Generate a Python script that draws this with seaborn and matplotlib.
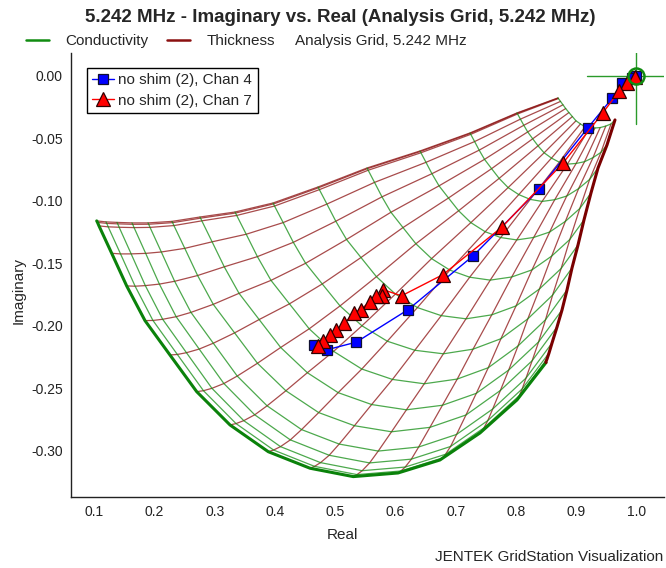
import numpy as np
import pandas as pd
import matplotlib
matplotlib.use("Agg")
import matplotlib.pyplot as plt
from matplotlib.lines import Line2D
import seaborn as sns

# ---------------- measurement data ----------------
chan4_real = [1.000, 0.993, 0.977, 0.960, 0.919, 0.838, 0.729, 0.621, 0.535, 0.487, 0.464]
chan4_imag = [0.000, -0.002, -0.006, -0.018, -0.042, -0.091, -0.144, -0.187, -0.213, -0.219, -0.215]
chan7_real = [0.997, 0.985, 0.972, 0.944, 0.878, 0.777, 0.679, 0.610, 0.579, 0.578, 0.568,
              0.557, 0.542, 0.531, 0.515, 0.502, 0.491, 0.479, 0.472]
chan7_imag = [-0.001, -0.006, -0.012, -0.030, -0.070, -0.121, -0.159, -0.176, -0.171, -0.176, -0.176,
              -0.181, -0.187, -0.190, -0.198, -0.203, -0.207, -0.212, -0.216]
series_labels = ["no shim (2), Chan 4", "no shim (2), Chan 7"]

# air point (crosshair)
air_real = 1.0
air_imag = 0.0

# ---------------- analysis grid boundaries ----------------
# thickest-thickness line (top edge), one node per conductivity line (low -> high sigma)
top_real = [0.8699, 0.8018, 0.7238, 0.6407, 0.5527, 0.4713, 0.3965, 0.3334, 0.2752, 0.2287,
            0.1889, 0.1623, 0.1374, 0.1191, 0.1037]
top_imag = [-0.0178, -0.0298, -0.0458, -0.0602, -0.0738, -0.0890, -0.1018, -0.1090, -0.1130, -0.1165,
            -0.1177, -0.1177, -0.1173, -0.1169, -0.1161]
# thinnest-thickness line (right edge)
right_real = [0.9646, 0.9513, 0.9364, 0.9247, 0.9131, 0.9032, 0.8932, 0.8849, 0.8766, 0.8683,
              0.8600, 0.8550, 0.8517, 0.8500, 0.8500]
right_imag = [-0.0354, -0.0554, -0.0738, -0.0938, -0.1153, -0.1353, -0.1537, -0.1713, -0.1873, -0.2009,
              -0.2137, -0.2217, -0.2265, -0.2285, -0.2293]
# lowest-conductivity line, one node per thickness line (thick -> thin)
low_sigma_real = [0.8699, 0.8701, 0.8706, 0.8741, 0.8782, 0.8827, 0.8881, 0.8938, 0.8998, 0.9072,
                  0.9148, 0.9226, 0.9314, 0.9400, 0.9493, 0.9580, 0.9646]
low_sigma_imag = [-0.0178, -0.0180, -0.0183, -0.0206, -0.0233, -0.0263, -0.0295, -0.0327, -0.0361, -0.0386,
                  -0.0409, -0.0420, -0.0418, -0.0415, -0.0403, -0.0386, -0.0354]
# highest-conductivity line
high_sigma_real = [0.1037, 0.1050, 0.1075, 0.1286, 0.1535, 0.1839, 0.2254, 0.2698, 0.3251, 0.3887,
                   0.4580, 0.5299, 0.6042, 0.6739, 0.7404, 0.8018, 0.8500]
high_sigma_imag = [-0.1161, -0.1173, -0.1201, -0.1420, -0.1681, -0.1958, -0.2233, -0.2526, -0.2792, -0.3006,
                   -0.3138, -0.3205, -0.3176, -0.3072, -0.2856, -0.2592, -0.2293]

x_ticks = [0.1, 0.2, 0.3, 0.4, 0.5, 0.6, 0.7, 0.8, 0.9, 1.0]
y_ticks = [0.00, -0.05, -0.10, -0.15, -0.20, -0.25, -0.30]

# ---------------- build grid mesh (transfinite blend of the boundaries) ----------------
aspect_k = 1251 / 602


def chord_frac(xs, ys):
    xs, ys = np.asarray(xs), np.asarray(ys)
    d = np.hypot(np.diff(xs), np.diff(ys) * aspect_k)
    c = np.concatenate([[0.0], np.cumsum(d)])
    return c / c[-1]


T = np.array(top_real) + 1j * np.array(top_imag)
R = np.array(right_real) + 1j * np.array(right_imag)
S = np.array(low_sigma_real) + 1j * np.array(low_sigma_imag)
H = np.array(high_sigma_real) + 1j * np.array(high_sigma_imag)
u = 0.5 * (chord_frac(top_real, top_imag) + chord_frac(right_real, right_imag))
v = 0.5 * (chord_frac(low_sigma_real, low_sigma_imag) + chord_frac(high_sigma_real, high_sigma_imag))
U, V = u[:, None], v[None, :]
B, A, C, D = T[0], T[-1], R[0], R[-1]
P = ((1 - V) * T[:, None] + V * R[:, None] + (1 - U) * S[None, :] + U * H[None, :]
     - ((1 - U) * (1 - V) * B + U * (1 - V) * A + (1 - U) * V * C + U * V * D))
n_sig, n_thk = P.shape

rows = []
for i in range(n_sig):
    for j in range(n_thk):
        rows.append(dict(kind="sigma", line=i, order=j, real=P[i, j].real, imag=P[i, j].imag))
for j in range(n_thk):
    for i in range(n_sig):
        rows.append(dict(kind="thick", line=j, order=i, real=P[i, j].real, imag=P[i, j].imag))
grid = pd.DataFrame(rows)

# ---------------- style ----------------
sns.set_style("white")
plt.rcParams["font.family"] = ["Liberation Sans", "DejaVu Sans"]
plt.rcParams["axes.unicode_minus"] = False

GREEN = "#118c11"
DKRED = "#8b1010"
FS = 11

fig = plt.figure(figsize=(6.66, 5.68), dpi=100)
ax = fig.add_axes([71 / 666, 1 - 497 / 568, (664 - 71) / 666, (497 - 53) / 568])

thin_sig = grid[(grid.kind == "sigma") & (grid.line < n_sig - 1)]
thin_thk = grid[(grid.kind == "thick") & (grid.line < n_thk - 1)]
bold_sig = grid[(grid.kind == "sigma") & (grid.line == n_sig - 1)]
bold_thk = grid[(grid.kind == "thick") & (grid.line == n_thk - 1)]

sns.lineplot(data=thin_thk, x="real", y="imag", units="line", estimator=None, sort=False,
             color=DKRED, lw=0.9, alpha=0.75, ax=ax, legend=False)
sns.lineplot(data=thin_sig, x="real", y="imag", units="line", estimator=None, sort=False,
             color=GREEN, lw=0.9, alpha=0.75, ax=ax, legend=False)
sns.lineplot(data=bold_sig, x="real", y="imag", estimator=None, sort=False,
             color="#0a820a", lw=2.2, ax=ax, legend=False)
sns.lineplot(data=bold_thk, x="real", y="imag", estimator=None, sort=False,
             color="#7a0000", lw=2.2, ax=ax, legend=False)

# crosshair at the air point
arm_x, arm_y = 0.082, 0.039
ax.plot([air_real - arm_x, air_real + arm_x], [air_imag, air_imag], color="#2a9a2a", lw=1.0)
ax.plot([air_real, air_real], [air_imag - arm_y, air_imag + arm_y], color="#2a9a2a", lw=1.0)

# measurement series
sns.lineplot(x=chan4_real, y=chan4_imag, sort=False, estimator=None, color="#0000ff", lw=1.0,
             marker="s", markersize=6.8, markerfacecolor="#0000ff", markeredgecolor="#101030",
             markeredgewidth=0.9, ax=ax, legend=False)
sns.lineplot(x=chan7_real, y=chan7_imag, sort=False, estimator=None, color="#ff0000", lw=1.0,
             marker="^", markersize=10, markerfacecolor="#ff0000", markeredgecolor="#300000",
             markeredgewidth=0.9, ax=ax, legend=False)
ax.plot([air_real], [air_imag], marker="o", ms=11.5, mfc="none", mec="#118c11", mew=1.8, ls="none")

ax.set_xlim(0.061, 1.046)
ax.set_ylim(-0.3368, 0.0181)
ax.set_xticks(x_ticks)
ax.set_xticklabels([f"{t:.1f}" for t in x_ticks])
ax.set_yticks(y_ticks)
ax.set_yticklabels([f"{t:.2f}" for t in y_ticks])
ax.tick_params(direction="out", length=4, width=1, labelsize=10, pad=2, colors="#222222")
for side in ["top", "right"]:
    ax.spines[side].set_visible(False)
for side in ["left", "bottom"]:
    ax.spines[side].set_color("#222222")
    ax.spines[side].set_linewidth(1.0)
ax.set_xlabel("Real", fontsize=FS)
ax.set_ylabel("Imaginary", fontsize=FS)
ax.xaxis.set_label_coords((342 - 71) / 593, -(535 - 497) / 444)
ax.yaxis.set_label_coords((19 - 71) / 593, (497 - 291) / 444)
ax.xaxis.label.set_va("center")
ax.yaxis.label.set_va("center")

# inner legend
h4 = Line2D([], [], color="#0000ff", lw=1.0, marker="s", markersize=6.8, markerfacecolor="#0000ff",
            markeredgecolor="#101030", markeredgewidth=0.9)
h7 = Line2D([], [], color="#ff0000", lw=1.0, marker="^", markersize=10, markerfacecolor="#ff0000",
            markeredgecolor="#300000", markeredgewidth=0.9)
leg = ax.legend([h4, h7], series_labels, loc="upper left", bbox_to_anchor=(0.027, 0.966),
                borderaxespad=0, fontsize=FS, handlelength=1.4, handletextpad=0.3,
                borderpad=0.35, labelspacing=0.4, fancybox=False, framealpha=1, edgecolor="black")
leg.get_frame().set_linewidth(1.0)

# top legend
hc = Line2D([], [], color="#118c11", lw=1.8)
ht = Line2D([], [], color="#8b1010", lw=1.8)
fig.legend([hc, ht], ["Conductivity", "Thickness"], loc="center left",
           bbox_to_anchor=(26 / 666, 1 - 41 / 568), ncol=2, frameon=False, fontsize=FS,
           handlelength=1.5, handletextpad=1.05, columnspacing=1.25, borderpad=0, borderaxespad=0)
fig.text(295 / 666, 1 - 41 / 568, "Analysis Grid, 5.242 MHz", fontsize=FS, ha="left", va="center")

fig.text(340 / 666, 1 - 17 / 568, "5.242 MHz - Imaginary vs. Real (Analysis Grid, 5.242 MHz)",
         fontsize=13.5, fontweight="bold", ha="center", va="center")
fig.text(663 / 666, 1 - 557 / 568, "JENTEK GridStation Visualization", fontsize=FS,
         ha="right", va="center")

fig.savefig("out.png", dpi=100)
